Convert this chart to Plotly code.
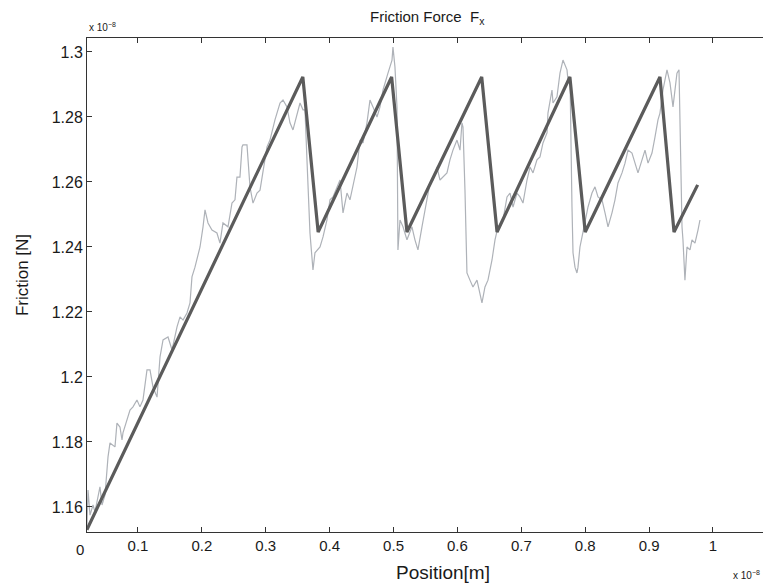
import plotly.graph_objects as go

# units: position x 1e-8 m, friction x 1e-8 N
meas_x = [0.0202, 0.0218, 0.0249, 0.0296, 0.0327, 0.0374, 0.0405, 0.0437, 0.0484, 0.0531,
          0.0562, 0.0640, 0.0671, 0.0718, 0.0750, 0.0765, 0.0875, 0.0922, 0.0984, 0.1031,
          0.1078, 0.1141, 0.1188, 0.1235, 0.1298, 0.1345, 0.1392, 0.1470, 0.1533, 0.1611,
          0.1658, 0.1705, 0.1767, 0.1814, 0.1845, 0.1892, 0.1971, 0.2018, 0.2049, 0.2096,
          0.2158, 0.2236, 0.2283, 0.2330, 0.2409, 0.2471, 0.2518, 0.2549, 0.2596, 0.2628,
          0.2643, 0.2706, 0.2722, 0.2753, 0.2800, 0.2863, 0.2910, 0.2957, 0.3019, 0.3066,
          0.3144, 0.3223, 0.3270, 0.3332, 0.3379, 0.3426, 0.3489, 0.3536, 0.3583, 0.3614,
          0.3645, 0.3692, 0.3739, 0.3770, 0.3849, 0.3896, 0.3958, 0.4005, 0.4052, 0.4115,
          0.4162, 0.4209, 0.4271, 0.4318, 0.4365, 0.4428, 0.4475, 0.4522, 0.4584, 0.4631,
          0.4678, 0.4741, 0.4788, 0.4835, 0.4913, 0.4976, 0.4991, 0.5022, 0.5054, 0.5069,
          0.5101, 0.5148, 0.5210, 0.5288, 0.5335, 0.5382, 0.5445, 0.5523, 0.5570, 0.5617,
          0.5680, 0.5727, 0.5836, 0.5883, 0.5930, 0.5993, 0.6040, 0.6071, 0.6087, 0.6118,
          0.6149, 0.6196, 0.6243, 0.6306, 0.6353, 0.6384, 0.6431, 0.6478, 0.6541, 0.6588,
          0.6635, 0.6713, 0.6776, 0.6823, 0.6870, 0.6932, 0.6979, 0.7026, 0.7089, 0.7136,
          0.7183, 0.7245, 0.7292, 0.7339, 0.7402, 0.7417, 0.7480, 0.7496, 0.7558, 0.7605,
          0.7652, 0.7715, 0.7730, 0.7762, 0.7793, 0.7809, 0.7840, 0.7871, 0.7887, 0.7918,
          0.7950, 0.7997, 0.8044, 0.8106, 0.8153, 0.8200, 0.8263, 0.8310, 0.8357, 0.8419,
          0.8466, 0.8513, 0.8576, 0.8623, 0.8670, 0.8732, 0.8779, 0.8826, 0.8889, 0.8936,
          0.8983, 0.9045, 0.9092, 0.9139, 0.9170, 0.9217, 0.9280, 0.9327, 0.9374, 0.9405,
          0.9436, 0.9468, 0.9483, 0.9515, 0.9530, 0.9561, 0.9593, 0.9640, 0.9671, 0.9718,
          0.9765, 0.9796]
meas_y = [1.1545, 1.1652, 1.1575, 1.1606, 1.1585, 1.1637, 1.1662, 1.1606, 1.1637, 1.1754,
          1.1797, 1.1785, 1.1858, 1.1846, 1.1806, 1.1828, 1.1898, 1.1908, 1.1929, 1.1908,
          1.1929, 1.2022, 1.2022, 1.1969, 1.1938, 1.2062, 1.2114, 1.2123, 1.2083, 1.2154,
          1.2185, 1.2175, 1.2197, 1.2228, 1.2308, 1.2338, 1.2400, 1.2462, 1.2514, 1.2474,
          1.2452, 1.2443, 1.2412, 1.2474, 1.2462, 1.2535, 1.2545, 1.2615, 1.2615, 1.2708,
          1.2714, 1.2714, 1.2668, 1.2585, 1.2535, 1.2566, 1.2575, 1.2628, 1.2708, 1.2729,
          1.2791, 1.2843, 1.2852, 1.2831, 1.2782, 1.2760, 1.2812, 1.2843, 1.2822, 1.2822,
          1.2668, 1.2443, 1.2329, 1.2382, 1.2400, 1.2431, 1.2483, 1.2545, 1.2554, 1.2585,
          1.2606, 1.2505, 1.2566, 1.2545, 1.2585, 1.2646, 1.2729, 1.2720, 1.2782, 1.2852,
          1.2831, 1.2800, 1.2831, 1.2883, 1.2935, 1.2975, 1.3015, 1.2954, 1.2831, 1.2391,
          1.2483, 1.2462, 1.2422, 1.2462, 1.2422, 1.2391, 1.2462, 1.2554, 1.2597, 1.2606,
          1.2646, 1.2606, 1.2628, 1.2668, 1.2698, 1.2729, 1.2698, 1.2782, 1.2769, 1.2575,
          1.2320, 1.2298, 1.2277, 1.2298, 1.2258, 1.2228, 1.2277, 1.2298, 1.2360, 1.2422,
          1.2462, 1.2483, 1.2554, 1.2566, 1.2523, 1.2566, 1.2554, 1.2535, 1.2606, 1.2646,
          1.2628, 1.2668, 1.2677, 1.2720, 1.2751, 1.2812, 1.2883, 1.2843, 1.2862, 1.2935,
          1.2975, 1.2945, 1.2914, 1.2923, 1.2523, 1.2382, 1.2338, 1.2320, 1.2338, 1.2400,
          1.2431, 1.2483, 1.2523, 1.2566, 1.2585, 1.2554, 1.2545, 1.2505, 1.2462, 1.2505,
          1.2545, 1.2597, 1.2628, 1.2658, 1.2698, 1.2689, 1.2658, 1.2628, 1.2668, 1.2698,
          1.2658, 1.2689, 1.2738, 1.2791, 1.2812, 1.2883, 1.2945, 1.2905, 1.2831, 1.2883,
          1.2935, 1.2945, 1.2751, 1.2462, 1.2422, 1.2298, 1.2400, 1.2391, 1.2422, 1.2412,
          1.2452, 1.2483]

model_x = [0.020, 0.358, 0.382, 0.497, 0.521, 0.638, 0.662, 0.776, 0.800, 0.917, 0.939, 0.976]
model_y = [1.1530, 1.2923, 1.2446, 1.2923, 1.2446, 1.2923, 1.2446, 1.2923, 1.2446, 1.2923, 1.2446, 1.2591]

x_ticks = [0.1, 0.2, 0.3, 0.4, 0.5, 0.6, 0.7, 0.8, 0.9, 1.0]
x_tick_labels = ["0.1", "0.2", "0.3", "0.4", "0.5", "0.6", "0.7", "0.8", "0.9", "1"]
y_ticks = [1.16, 1.18, 1.20, 1.22, 1.24, 1.26, 1.28, 1.30]
y_tick_labels = ["1.16", "1.18", "1.2", "1.22", "1.24", "1.26", "1.28", "1.3"]

X_RANGE = [0.0202, 1.0861]
Y_RANGE = [1.1523, 1.3043]

FONT = "Liberation Sans, Arial, sans-serif"
TXT = "#1a1a1a"

fig = go.Figure()
fig.add_trace(go.Scatter(x=meas_x, y=meas_y, mode="lines",
                         line=dict(color="#aeb2b8", width=1.2), showlegend=False))
fig.add_trace(go.Scatter(x=model_x, y=model_y, mode="lines",
                         line=dict(color="#5b5b5b", width=3.2), showlegend=False))

axis_common = dict(showgrid=False, zeroline=False, showline=True, linecolor="#333333",
                   linewidth=1, mirror="ticks", ticks="inside", ticklen=5,
                   tickcolor="#333333")

fig.update_xaxes(range=X_RANGE, tickvals=x_ticks, ticktext=x_tick_labels,
                 tickfont=dict(family=FONT, size=15, color=TXT), **axis_common)
fig.update_yaxes(range=Y_RANGE, tickvals=y_ticks, ticktext=y_tick_labels,
                 tickfont=dict(family=FONT, size=16, color=TXT), **axis_common)

x0p = (0 - X_RANGE[0]) / (X_RANGE[1] - X_RANGE[0])

# the page body has an 8px margin, so the figure is sized to fit the window
fig.update_layout(
    width=763, height=577,
    margin=dict(l=79, r=3, t=30, b=53),
    paper_bgcolor="white", plot_bgcolor="white",
    font=dict(family=FONT, color=TXT),
    annotations=[
        dict(text="Friction Force  F<sub>x</sub>", x=0.5, y=1.0, xref="paper", yref="paper",
             yshift=9, showarrow=False, yanchor="bottom", font=dict(size=15, color=TXT)),
        dict(text="Position[m]", x=0.523, y=0, xref="paper", yref="paper", yshift=-53,
             showarrow=False, yanchor="bottom", font=dict(size=19, color=TXT)),
        dict(text="Friction [N]", x=0, y=0.52, xref="paper", yref="paper", xshift=-65,
             showarrow=False, textangle=-90, xanchor="center", font=dict(size=17, color=TXT)),
        dict(text="0", x=x0p, y=0, xref="paper", yref="paper", yshift=-7,
             showarrow=False, yanchor="top", font=dict(size=15, color=TXT)),
        dict(text="x 10<sup>−8</sup>", x=0, y=1.0, xref="paper", yref="paper", yshift=3,
             xanchor="left", yanchor="bottom", showarrow=False, font=dict(size=10, color=TXT)),
        dict(text="x 10<sup>−8</sup>", x=1.0, y=0, xref="paper", yref="paper", yshift=-35,
             xshift=-6, xanchor="right", yanchor="top", showarrow=False,
             font=dict(size=10, color=TXT)),
    ],
)

fig.write_html("out.html")
